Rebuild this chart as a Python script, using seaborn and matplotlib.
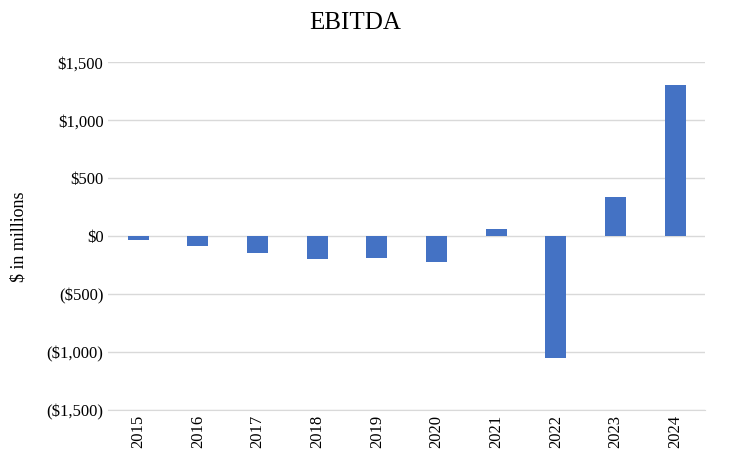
import matplotlib
matplotlib.use("Agg")
import matplotlib.pyplot as plt
import seaborn as sns
import pandas as pd

years = ["2015","2016","2017","2018","2019","2020","2021","2022","2023","2024"]
ebitda = [-35, -85, -145, -200, -190, -225, 60, -1050, 335, 1300]
yticks = [-1500, -1000, -500, 0, 500, 1000, 1500]
ylabels = ["($1,500)", "($1,000)", "($500)", "$0", "$500", "$1,000", "$1,500"]

plt.rcParams["font.family"] = "Liberation Serif"
df = pd.DataFrame({"year": years, "v": ebitda})
fig, ax = plt.subplots(figsize=(7.32, 4.61), dpi=100)
fig.subplots_adjust(left=0.148, right=0.963, top=0.865, bottom=0.11)
sns.barplot(data=df, x="year", y="v", color="#4472C4", width=0.35, ax=ax, saturation=1)
ax.set_ylim(-1500, 1500)
ax.set_yticks(yticks)
ax.set_yticklabels(ylabels, fontsize=12)
ax.tick_params(axis="x", labelrotation=90, labelsize=12, length=0)
ax.tick_params(axis="y", length=0)
ax.yaxis.grid(True, color="#d9d9d9", linewidth=1)
ax.set_axisbelow(True)
for s in ["top", "right", "left"]:
    ax.spines[s].set_visible(False)
ax.spines["bottom"].set_color("#d9d9d9")
ax.set_xlabel("")
ax.set_ylabel("$ in millions", fontsize=13, labelpad=14)
fig.suptitle("EBITDA", fontsize=18, x=0.485, y=0.975)
fig.savefig("out.png", dpi=100)
